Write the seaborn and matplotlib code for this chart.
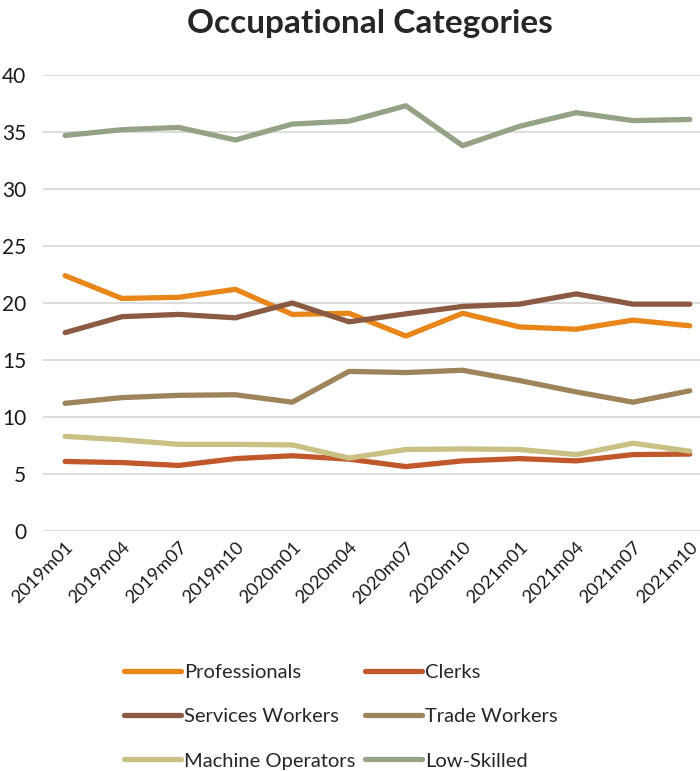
import matplotlib
matplotlib.use("Agg")
import matplotlib.pyplot as plt
import pandas as pd
import seaborn as sns

periods = ["2019m01", "2019m04", "2019m07", "2019m10", "2020m01", "2020m04",
           "2020m07", "2020m10", "2021m01", "2021m04", "2021m07", "2021m10"]

professionals = [22.4, 20.4, 20.5, 21.2, 19.0, 19.1, 17.1, 19.1, 17.9, 17.7, 18.5, 18.0]
clerks = [6.1, 6.0, 5.75, 6.35, 6.6, 6.3, 5.65, 6.15, 6.35, 6.15, 6.7, 6.75]
services_workers = [17.4, 18.8, 19.0, 18.7, 20.0, 18.35, 19.05, 19.7, 19.9, 20.8, 19.9, 19.9]
trade_workers = [11.2, 11.7, 11.9, 11.95, 11.3, 14.0, 13.9, 14.1, 13.2, 12.2, 11.3, 12.3]
machine_operators = [8.3, 8.0, 7.6, 7.6, 7.55, 6.4, 7.15, 7.2, 7.15, 6.7, 7.7, 7.0]
low_skilled = [34.7, 35.2, 35.4, 34.3, 35.7, 35.95, 37.3, 33.8, 35.5, 36.7, 36.0, 36.1]

series = {
    "Professionals": professionals,
    "Clerks": clerks,
    "Services Workers": services_workers,
    "Trade Workers": trade_workers,
    "Machine Operators": machine_operators,
    "Low-Skilled": low_skilled,
}
colors = {
    "Professionals": "#E8861A",
    "Clerks": "#C0582C",
    "Services Workers": "#8B5A42",
    "Trade Workers": "#9E845A",
    "Machine Operators": "#C9C084",
    "Low-Skilled": "#94A285",
}

df = pd.DataFrame(
    [(p, name, v) for name, vals in series.items() for p, v in zip(periods, vals)],
    columns=["period", "category", "value"],
)

sns.set_theme(style="white")
plt.rcParams["font.family"] = ["Lato", "DejaVu Sans"]

fig = plt.figure(figsize=(7.0, 7.71), dpi=100)
ax = fig.add_axes([0.0614, 0.3113, 0.9386, 0.5914])

sns.lineplot(data=df, x="period", y="value", hue="category",
             palette=colors, hue_order=list(series.keys()),
             linewidth=3.8, sort=False, ax=ax, legend=True)

ax.set_ylim(0, 40)
ax.set_yticks(range(0, 41, 5))
ax.set_xlim(-0.39, 11.18)
ax.yaxis.grid(True, color="#D9D9D9", linewidth=1.3)
ax.set_axisbelow(True)
for s in ax.spines.values():
    s.set_visible(False)
ax.set_xlabel("")
ax.set_ylabel("")
ax.tick_params(axis="y", labelsize=15, pad=12, length=0, labelcolor="#1a1a1a")
ax.tick_params(axis="x", labelsize=13.2, length=0, pad=6, labelcolor="#1a1a1a")
for lab in ax.get_xticklabels():
    lab.set_rotation(45)
    lab.set_ha("right")
    lab.set_rotation_mode("anchor")

# legend filled row by row: two columns, three rows
handles, labels = ax.get_legend_handles_labels()
ax.get_legend().remove()
order = [0, 2, 4, 1, 3, 5]
fig.legend([handles[i] for i in order], [labels[i] for i in order],
           loc="upper center", bbox_to_anchor=(0.487, 0.163),
           ncol=2, frameon=False, fontsize=14.5, handlelength=2.8,
           handletextpad=0.15, columnspacing=0.5, labelspacing=1.36)

fig.suptitle("Occupational Categories", fontsize=24, fontweight="bold",
             x=0.528, y=0.988, va="top")

fig.savefig("out.png", dpi=100)
